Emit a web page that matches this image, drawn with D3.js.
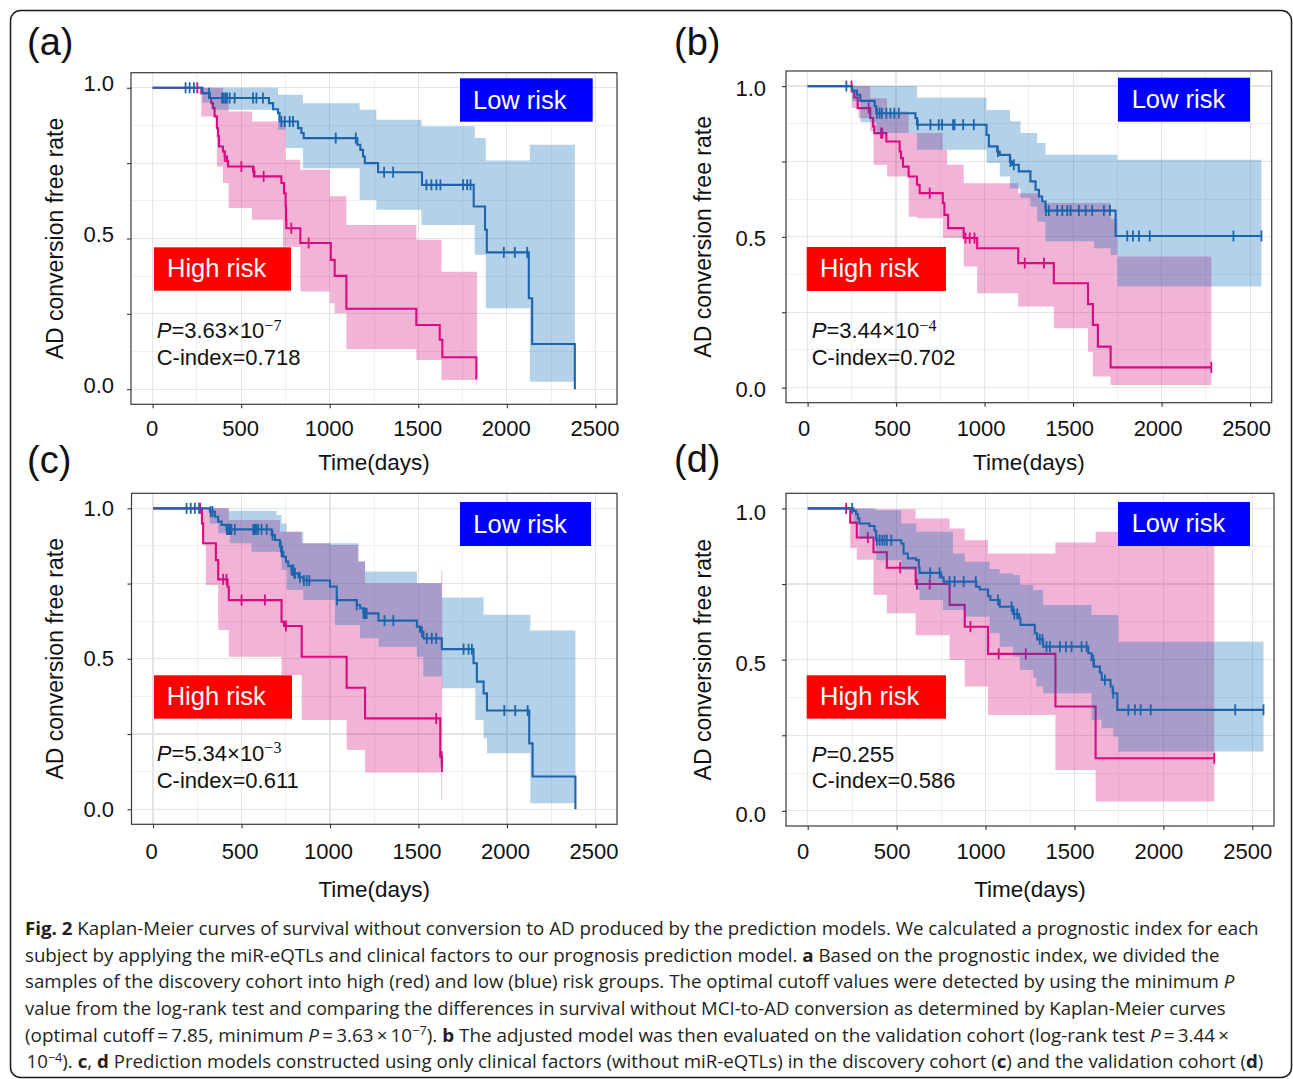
<!DOCTYPE html>
<html>
<head>
<meta charset="utf-8">
<script src="https://cdn.jsdelivr.net/npm/d3@7"></script>
<style>
  html, body { margin: 0; padding: 0; background: #fff; }
  svg { display: block; }
</style>
</head>
<body>
<svg id="fig" width="1293" height="1079"></svg>
<script>
// ---------- axis ticks ----------
const xTicks = [0, 500, 1000, 1500, 2000, 2500];
const yTicks = [0, 0.25, 0.5, 0.75, 1];
const yTickLabels = ["0.0", "", "0.5", "", "1.0"];
const xGridMinor = [250, 750, 1250, 1750, 2250];
const yGridMinor = [0.125, 0.375, 0.625, 0.875];

// ---------- (a) discovery cohort, miR-eQTL model ----------
const aLowSteps = [[0,1],[281,0.982],[322,0.966],[657,0.949],[680,0.929],[708,0.916],[717,0.888],[821,0.866],[840,0.850],[853,0.833],[1156,0.811],[1173,0.794],[1188,0.772],[1198,0.750],[1273,0.720],[1521,0.678],[1813,0.606],[1877,0.529],[1887,0.454],[2124,0.302],[2143,0.150],[2384,0]];
const aLowEnd = 2384;
const aLowCensor = [186,209,233,318,392,401,410,420,435,463,567,586,623,727,746,774,793,1034,1147,1307,1358,1546,1574,1602,1625,1753,1776,1795,1983,2045,2115];
const aLowBand = [[281,0.95,1.0],[331,0.927,1.0],[708,0.861,0.977],[751,0.800,0.977],[849,0.733,0.949],[1169,0.628,0.927],[1263,0.595,0.894],[1518,0.545,0.872],[1819,0.446,0.833],[1881,0.269,0.759],[2130,0.025,0.811]];
const aHighSteps = [[0,1],[275,0.982],[322,0.966],[331,0.949],[341,0.933],[350,0.905],[363,0.866],[369,0.839],[375,0.805],[397,0.789],[407,0.772],[420,0.756],[426,0.739],[567,0.722],[575,0.706],[727,0.684],[742,0.650],[751,0.606],[753,0.562],[755,0.534],[834,0.485],[1006,0.429],[1028,0.376],[1094,0.267],[1489,0.213],[1621,0.164],[1636,0.106],[1828,0.036]];
const aHighEnd = 1832;
const aHighCensor = [252,407,501,571,627,783,881];
const aHighBand = [[275,0.905,1.0],[363,0.739,1.0],[397,0.684,0.96],[429,0.601,0.921],[561,0.562,0.888],[736,0.473,0.888],[751,0.473,0.761],[834,0.324,0.728],[1000,0.285,0.64],[1028,0.252,0.64],[1094,0.133,0.545],[1489,0.097,0.496],[1631,0.031,0.39],[1828,0.014,0.39]];

// ---------- (b) validation cohort, miR-eQTL model ----------
const bLowSteps = [[0,1],[251,0.985],[279,0.971],[298,0.951],[379,0.933],[388,0.910],[609,0.894],[618,0.872],[1011,0.838],[1024,0.800],[1071,0.783],[1086,0.772],[1143,0.750],[1156,0.739],[1193,0.717],[1259,0.684],[1288,0.656],[1307,0.634],[1325,0.617],[1344,0.587],[1740,0.503]];
const bLowEnd = 2564;
const bLowCensor = [219,392,407,420,445,468,490,515,622,694,741,760,822,830,879,939,1075,1146,1165,1347,1363,1410,1439,1467,1486,1533,1571,1608,1674,1708,1806,1838,1872,1933,2406,2564];
const bLowBand = [[251,0.95,1.0],[298,0.88,1.0],[388,0.844,1.0],[618,0.789,0.962],[1011,0.745,0.921],[1086,0.70,0.921],[1143,0.66,0.883],[1203,0.63,0.844],[1259,0.60,0.844],[1297,0.55,0.811],[1344,0.485,0.772],[1618,0.462,0.772],[1712,0.44,0.772],[1750,0.335,0.756]];
const bHighSteps = [[0,1],[251,0.982],[264,0.962],[283,0.927],[354,0.894],[370,0.866],[377,0.844],[445,0.816],[520,0.783],[528,0.761],[539,0.733],[571,0.700],[618,0.673],[633,0.645],[764,0.612],[773,0.573],[794,0.529],[882,0.496],[958,0.462],[1190,0.413],[1391,0.346],[1584,0.277],[1612,0.208],[1640,0.136],[1712,0.067]];
const bHighEnd = 2281;
const bHighCensor = [248,345,415,422,690,892,916,943,1227,1335,2281];
const bHighBand = [[251,0.927,1.0],[288,0.894,1.0],[354,0.85,0.96],[373,0.739,0.96],[449,0.70,0.916],[571,0.567,0.844],[618,0.562,0.844],[764,0.496,0.789],[788,0.496,0.739],[882,0.402,0.678],[958,0.313,0.678],[1190,0.269,0.645],[1316,0.269,0.612],[1391,0.197,0.612],[1584,0.119,0.612],[1612,0.037,0.612],[1712,0.009,0.56],[1750,0.009,0.435]];

// ---------- (c) discovery cohort, clinical factors only ----------
const cLowSteps = [[0,1],[321,0.989],[349,0.972],[368,0.956],[387,0.945],[415,0.930],[670,0.911],[689,0.895],[717,0.873],[726,0.856],[736,0.839],[751,0.823],[764,0.808],[783,0.795],[796,0.784],[821,0.771],[849,0.760],[1000,0.740],[1038,0.695],[1151,0.679],[1170,0.668],[1189,0.651],[1274,0.627],[1491,0.607],[1509,0.590],[1528,0.568],[1632,0.532],[1811,0.485],[1830,0.424],[1868,0.385],[1887,0.328],[2126,0.219],[2145,0.109],[2387,0]];
const cLowEnd = 2387;
const cLowCensor = [189,213,236,260,325,336,417,421,425,430,434,438,443,462,566,570,575,580,585,594,613,642,675,722,726,730,783,788,793,798,802,830,852,868,883,1040,1151,1190,1194,1198,1202,1207,1308,1358,1519,1547,1575,1600,1755,1783,1802,1985,2047,2117];
const cLowBand = [[321,0.95,1.0],[368,0.917,1.0],[425,0.917,0.992],[434,0.884,0.992],[557,0.856,0.992],[698,0.856,0.978],[726,0.795,0.95],[755,0.729,0.922],[849,0.695,0.884],[1028,0.612,0.884],[1160,0.612,0.823],[1170,0.568,0.823],[1198,0.568,0.790],[1274,0.540,0.790],[1491,0.507,0.751],[1528,0.441,0.751],[1632,0.402,0.704],[1821,0.297,0.704],[1868,0.236,0.646],[1887,0.186,0.646],[2132,0.020,0.594]];
const cHighSteps = [[0,1],[276,0.95],[283,0.884],[355,0.828],[368,0.764],[421,0.740],[428,0.695],[726,0.623],[740,0.609],[840,0.507],[1094,0.404],[1198,0.302],[1623,0.175],[1632,0.142]];
const cHighEnd = 1634;
const cHighCensor = [266,396,415,500,632,751,1600,1631,1633];
const cHighBand = [[276,0.88,1.0],[298,0.745,1.0],[368,0.596,1.0],[428,0.507,0.961],[717,0.507,0.922],[726,0.446,0.922],[840,0.297,0.884],[1000,0.297,0.878],[1094,0.197,0.878],[1160,0.197,0.823],[1198,0.122,0.751],[1629,0.031,0.795]];

// ---------- (d) validation cohort, clinical factors only ----------
const dLowSteps = [[0,1],[257,0.992],[272,0.981],[282,0.967],[291,0.950],[347,0.942],[376,0.926],[385,0.895],[526,0.884],[539,0.851],[563,0.835],[610,0.829],[625,0.805],[629,0.787],[751,0.772],[764,0.758],[948,0.741],[967,0.732],[1014,0.710],[1027,0.697],[1080,0.675],[1155,0.651],[1189,0.637],[1196,0.615],[1277,0.587],[1290,0.567],[1324,0.543],[1578,0.521],[1596,0.499],[1609,0.477],[1643,0.457],[1653,0.433],[1703,0.411],[1715,0.389],[1741,0.334]];
const dLowEnd = 2563;
const dLowCensor = [250,388,404,419,432,445,470,689,742,798,826,877,945,1070,1146,1162,1178,1305,1320,1343,1362,1418,1452,1484,1540,1568,1606,1671,1718,1803,1840,1872,1929,2404,2563];
const dLowBand = [[257,0.95,1.0],[291,0.90,1.0],[385,0.829,0.994],[526,0.796,0.95],[610,0.73,0.923],[629,0.697,0.923],[761,0.664,0.923],[817,0.664,0.851],[883,0.642,0.824],[1023,0.587,0.80],[1080,0.543,0.785],[1155,0.51,0.78],[1193,0.466,0.747],[1268,0.44,0.73],[1286,0.411,0.73],[1324,0.389,0.681],[1596,0.301,0.648],[1653,0.273,0.648],[1718,0.246,0.648],[1747,0.196,0.559]];
const dHighSteps = [[0,1],[239,0.953],[276,0.904],[370,0.855],[445,0.804],[607,0.750],[798,0.681],[883,0.609],[1014,0.519],[1393,0.345],[1619,0.174]];
const dHighEnd = 2286;
const dHighCensor = [216,338,520,614,686,915,1074,1226,2286];
const dHighBand = [[239,0.87,1.0],[276,0.83,1.0],[370,0.714,0.997],[445,0.653,0.997],[607,0.581,0.967],[798,0.499,0.934],[883,0.411,0.895],[1014,0.317,0.851],[1393,0.135,0.887],[1619,0.031,0.923]];

// ---------- panel statistics ----------
const panelLetters = ["(a)", "(b)", "(c)", "(d)"];
const pValues = ["3.63\u00d710", "3.44\u00d710", "5.34\u00d710", "0.255"];
const pExponents = ["\u22127", "\u22124", "\u22123", ""];
const cIndices = ["0.718", "0.702", "0.611", "0.586"];

// ---------- caption ----------
const captionLines = [
  "**Fig. 2** Kaplan-Meier curves of survival without conversion to AD produced by the prediction models. We calculated a prognostic index for each",
  "subject by applying the miR-eQTLs and clinical factors to our prognosis prediction model. **a** Based on the prognostic index, we divided the",
  "samples of the discovery cohort into high (red) and low (blue) risk groups. The optimal cutoff values were detected by using the minimum _P_",
  "value from the log-rank test and comparing the differences in survival without MCI-to-AD conversion as determined by Kaplan-Meier curves",
  "(optimal cutoff\u2009=\u20097.85, minimum _P_\u2009=\u20093.63\u2009\u00d7\u200910^\u22127^). **b** The adjusted model was then evaluated on the validation cohort (log-rank test _P_\u2009=\u20093.44\u2009\u00d7",
  "10^\u22124^). **c**, **d** Prediction models constructed using only clinical factors (without miR-eQTLs) in the discovery cohort (**c**) and the validation cohort (**d**)"
];

// ---------- layout ----------
const COL_LOW = "#1C65AD", COL_HIGH = "#DC0A80";
const FILL_LOW = "#0266B2", FILL_HIGH = "#D00376", FILL_OPACITY = 0.3;
const FONT = "'Liberation Sans', Arial, sans-serif";

const layout = [
  { rect: [131, 72.7, 617, 404.3], letter: [27, 55], yPad: 13, yDy: -4, xPad: 11.8, xDx: -1, xTitleY: 470, yTitleX: 62.5,
    low: [460, 78.3, 592.7, 121.7, 473, 108.5], high: [154, 247.3, 291, 290.7, 167, 277], stat: [156.7, 338, 365] },
  { rect: [786, 71, 1271.7, 402.7], letter: [674, 55], yPad: 16, yDy: 2, xPad: 13.3, xDx: -4, xTitleY: 470, yTitleX: 710.5,
    low: [1118, 77.7, 1250, 121.7, 1131.7, 108.3], high: [806.7, 247, 946, 291, 820, 277.3], stat: [811.7, 338.3, 365] },
  { rect: [131.5, 493.3, 617, 824.3], letter: [27, 473], yPad: 13.5, yDy: 0, xPad: 14.7, xDx: -2, xTitleY: 897, yTitleX: 62.5,
    low: [460, 502, 591, 546, 473.3, 532.7], high: [154, 675.3, 292, 718.7, 166.7, 705], stat: [156.7, 760.7, 787.7] },
  { rect: [786, 493.3, 1274, 826], letter: [674, 472], yPad: 16, yDy: 4, xPad: 13, xDx: -5, xTitleY: 897, yTitleX: 710.5,
    low: [1118, 502, 1250, 546, 1131.7, 532.3], high: [806.7, 675.3, 946, 718.7, 820, 705], stat: [811.7, 761.7, 787.7] }
];

const series = [
  { low: [aLowSteps, aLowEnd, aLowCensor, aLowBand], high: [aHighSteps, aHighEnd, aHighCensor, aHighBand] },
  { low: [bLowSteps, bLowEnd, bLowCensor, bLowBand], high: [bHighSteps, bHighEnd, bHighCensor, bHighBand] },
  { low: [cLowSteps, cLowEnd, cLowCensor, cLowBand], high: [cHighSteps, cHighEnd, cHighCensor, cHighBand] },
  { low: [dLowSteps, dLowEnd, dLowCensor, dLowBand], high: [dHighSteps, dHighEnd, dHighCensor, dHighBand] }
];

const svg = d3.select("#fig");
svg.append("rect").attr("width", 1293).attr("height", 1079).attr("fill", "#fff");

// outer frame
svg.append("rect")
  .attr("x", 10.5).attr("y", 10.5).attr("width", 1281).attr("height", 1067)
  .attr("rx", 10).attr("ry", 10)
  .attr("fill", "none").attr("stroke", "#1a1a1a").attr("stroke-width", 1.5);

// value of the step curve at time t
function survAt(steps, t) {
  let v = steps[0][1];
  for (const [tt, s] of steps) { if (tt <= t) v = s; else break; }
  return v;
}

function drawGroup(g, x, y, grp, lineCol, fillCol) {
  const [steps, end, censor, band] = grp;
  const last = band[band.length - 1];
  const bandData = band.concat([[end, last[1], last[2]]]);
  g.append("path")
    .attr("d", d3.area().curve(d3.curveStepAfter)
      .x(d => x(d[0])).y0(d => y(d[1])).y1(d => y(d[2]))(bandData))
    .attr("fill", fillCol).attr("fill-opacity", FILL_OPACITY);
  const lineData = steps.concat([[end, steps[steps.length - 1][1]]]);
  g.append("path")
    .attr("d", d3.line().curve(d3.curveStepAfter).x(d => x(d[0])).y(d => y(d[1]))(lineData))
    .attr("fill", "none").attr("stroke", lineCol).attr("stroke-width", 2.1)
    .attr("stroke-linejoin", "miter");
  g.selectAll(null).data(censor).enter().append("line")
    .attr("x1", d => x(d)).attr("x2", d => x(d))
    .attr("y1", d => y(survAt(steps, d)) - 5.5).attr("y2", d => y(survAt(steps, d)) + 5.5)
    .attr("stroke", lineCol).attr("stroke-width", 1.8);
}

layout.forEach((L, i) => {
  const [x0, y0, x1, y1] = L.rect;
  const x = d3.scaleLinear().domain([-122, 2622]).range([x0, x1]);
  const y = d3.scaleLinear().domain([-0.05, 1.05]).range([y1, y0]);
  const g = svg.append("g");

  g.append("rect").attr("x", x0).attr("y", y0).attr("width", x1 - x0).attr("height", y1 - y0).attr("fill", "#fff");

  // grid
  const grid = g.append("g").attr("shape-rendering", "crispEdges");
  grid.selectAll(null).data(xGridMinor).enter().append("line")
    .attr("x1", d => x(d)).attr("x2", d => x(d)).attr("y1", y0).attr("y2", y1)
    .attr("stroke", "#EFEFEF").attr("stroke-width", 1);
  grid.selectAll(null).data(yGridMinor).enter().append("line")
    .attr("y1", d => y(d)).attr("y2", d => y(d)).attr("x1", x0).attr("x2", x1)
    .attr("stroke", "#EFEFEF").attr("stroke-width", 1);
  grid.selectAll(null).data(xTicks).enter().append("line")
    .attr("x1", d => x(d)).attr("x2", d => x(d)).attr("y1", y0).attr("y2", y1)
    .attr("stroke", "#E4E4E4").attr("stroke-width", 1.2);
  grid.selectAll(null).data(yTicks).enter().append("line")
    .attr("y1", d => y(d)).attr("y2", d => y(d)).attr("x1", x0).attr("x2", x1)
    .attr("stroke", "#E4E4E4").attr("stroke-width", 1.2);

  // curves: high risk first, low risk drawn on top
  drawGroup(g, x, y, series[i].high, COL_HIGH, FILL_HIGH);
  drawGroup(g, x, y, series[i].low, COL_LOW, FILL_LOW);

  // panel border
  g.append("rect").attr("x", x0).attr("y", y0).attr("width", x1 - x0).attr("height", y1 - y0)
    .attr("fill", "none").attr("stroke", "#3a3a3a").attr("stroke-width", 1.2);

  // axes
  const xa = g.append("g").attr("transform", `translate(0,${y1})`)
    .call(d3.axisBottom(x).tickValues(xTicks).tickSize(4).tickPadding(L.xPad).tickFormat(d3.format("d")));
  const ya = g.append("g").attr("transform", `translate(${x0},0)`)
    .call(d3.axisLeft(y).tickValues(yTicks).tickSize(4).tickPadding(L.yPad).tickFormat((d, k) => yTickLabels[k]));
  [xa, ya].forEach(a => {
    a.select(".domain").remove();
    a.selectAll(".tick line").attr("stroke", "#333").attr("stroke-width", 1.1);
    a.selectAll(".tick text").attr("font-family", FONT).attr("font-size", 22).attr("fill", "#111");
  });
  xa.selectAll(".tick text").attr("dx", L.xDx);
  ya.selectAll(".tick text").attr("transform", `translate(0,${L.yDy})`);

  // axis titles
  g.append("text").attr("x", (x0 + x1) / 2).attr("y", L.xTitleY)
    .attr("text-anchor", "middle").attr("font-family", FONT).attr("font-size", 22.5).attr("fill", "#111")
    .text("Time(days)");
  g.append("text")
    .attr("transform", `translate(${L.yTitleX},${(y0 + y1) / 2}) rotate(-90)`)
    .attr("text-anchor", "middle").attr("font-family", FONT).attr("font-size", 23).attr("fill", "#111")
    .text("AD conversion free rate");

  // panel letter
  svg.append("text").attr("x", L.letter[0]).attr("y", L.letter[1])
    .attr("font-family", FONT).attr("font-size", 38).attr("fill", "#111").text(panelLetters[i]);

  // group labels
  const [lbx0, lby0, lbx1, lby1, ltx, lty] = L.low;
  g.append("rect").attr("x", lbx0).attr("y", lby0).attr("width", lbx1 - lbx0).attr("height", lby1 - lby0).attr("fill", "#0000FF");
  g.append("text").attr("x", ltx).attr("y", lty).attr("font-family", FONT).attr("font-size", 25.5).attr("fill", "#fff").text("Low risk");
  const [hbx0, hby0, hbx1, hby1, htx, hty] = L.high;
  g.append("rect").attr("x", hbx0).attr("y", hby0).attr("width", hbx1 - hbx0).attr("height", hby1 - hby0).attr("fill", "#FF0000");
  g.append("text").attr("x", htx).attr("y", hty).attr("font-family", FONT).attr("font-size", 25.5).attr("fill", "#fff").text("High risk");

  // statistics
  const [sx, py, cy] = L.stat;
  const pt = g.append("text").attr("x", sx).attr("y", py).attr("font-family", FONT).attr("font-size", 22).attr("fill", "#111");
  pt.append("tspan").attr("font-style", "italic").text("P");
  pt.append("tspan").text("=" + pValues[i]);
  if (pExponents[i]) {
    pt.append("tspan").attr("dy", -7.5).attr("font-size", 16)
      .attr("font-family", "'Liberation Serif', 'Times New Roman', serif").text(pExponents[i]);
  }
  g.append("text").attr("x", sx).attr("y", cy).attr("font-family", FONT).attr("font-size", 22).attr("fill", "#111")
    .text("C-index=" + cIndices[i]);
});

// ---------- caption ----------
const capBaselines = [935, 961.7, 988.3, 1015, 1041.6, 1068.2];
const capEnds = [1259.3, 1220, 1235, 1226, 1230, 1264];
const capStarts = [25, 25, 25, 25, 25, 26.5];

function addRich(textSel, str) {
  const parts = str.split(/(\*\*[^*]+\*\*|_[^_]+_|\^[^^]+\^)/g).filter(s => s.length);
  let shift = 0;
  parts.forEach(p => {
    const ts = textSel.append("tspan");
    let dy = 0;
    if (p.startsWith("**")) ts.text(p.slice(2, -2)).attr("font-weight", "bold");
    else if (p.startsWith("_")) ts.text(p.slice(1, -1)).attr("font-style", "italic");
    else if (p.startsWith("^")) { ts.text(p.slice(1, -1)).attr("font-size", 12.5); dy = -6.5; }
    else ts.text(p);
    const delta = dy - shift;
    if (delta) ts.attr("dy", delta);
    shift = dy;
  });
}

captionLines.forEach((line, k) => {
  const t = svg.append("text")
    .attr("x", 0).attr("y", 0)
    .attr("font-family", "'Open Sans', sans-serif").attr("font-size", 18.5).attr("fill", "#231F20");
  addRich(t, line);
  const natural = t.node().getComputedTextLength();
  const target = capEnds[k] - capStarts[k];
  const sx = natural > 0 ? target / natural : 1;
  t.attr("transform", `translate(${capStarts[k]},${capBaselines[k]}) scale(${sx},1)`);
});
</script>
</body>
</html>
